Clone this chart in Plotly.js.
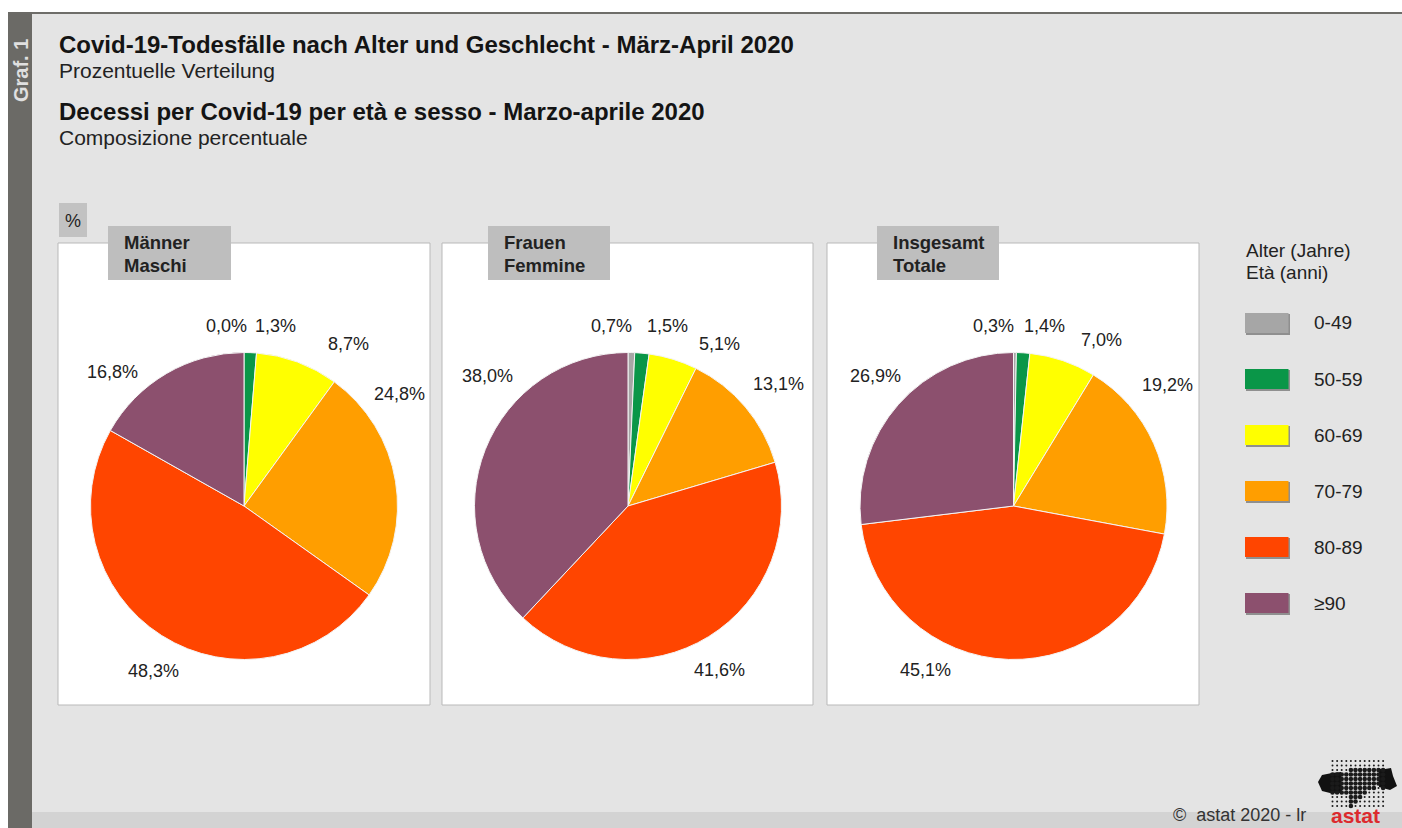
<!DOCTYPE html>
<html>
<head>
<meta charset="utf-8">
<script src="https://cdn.plot.ly/plotly-3.0.1.min.js"></script>
<style>
html, body { margin: 0; padding: 0; background: #fff; overflow: hidden; }
#chart { width: 1402px; height: 828px; }
</style>
</head>
<body>
<div id="chart"></div>
<script>
// Age bands and their slice colours
const ageBands = ['0-49', '50-59', '60-69', '70-79', '80-89', '≥90'];
const bandColors = ['#a6a6a6', '#0a9648', '#ffff00', '#ff9e00', '#ff4500', '#8c506e'];

// Share of deaths per age band, in percent
const menValues = [0.0, 1.3, 8.7, 24.8, 48.3, 16.8];
const womenValues = [0.7, 1.5, 5.1, 13.1, 41.6, 38.0];
const totalValues = [0.3, 1.4, 7.0, 19.2, 45.1, 26.9];

const W = 1402, H = 828;
const px = x => x / W;
const py = y => 1 - y / H;
const FONT = '"Liberation Sans", Arial, sans-serif';
const INK = '#222222';

// Panel geometry in page pixels
const panels = [
  { name: ['Männer', 'Maschi'], values: menValues, box: [58, 430], tab: [108, 231], cx: 244,
    labels: [[226, 326], [275, 326], [348, 344], [399, 394], [153, 671], [112, 372]] },
  { name: ['Frauen', 'Femmine'], values: womenValues, box: [442, 813], tab: [488, 610], cx: 628,
    labels: [[611, 326], [667, 326], [719, 344], [778, 384], [719, 670], [487, 376]] },
  { name: ['Insgesamt', 'Totale'], values: totalValues, box: [827, 1199], tab: [877, 999], cx: 1013.5,
    labels: [[993, 326], [1044, 326], [1101, 340], [1167, 385], [925, 670], [875, 376]] }
];
const pieCy = 506, pieR = 153.5;

const traces = panels.map(p => ({
  type: 'pie',
  values: p.values,
  labels: ageBands,
  sort: false,
  direction: 'clockwise',
  rotation: 0,
  textinfo: 'none',
  hoverinfo: 'label+percent',
  showlegend: false,
  marker: { colors: bandColors, line: { color: '#f4f4f4', width: 1 } },
  domain: { x: [px(p.cx - pieR), px(p.cx + pieR)], y: [py(pieCy + pieR), py(pieCy - pieR)] }
}));

function rect(x0, y0, x1, y1, fill, line) {
  return { type: 'rect', xref: 'paper', yref: 'paper', layer: 'below',
           x0: px(x0), x1: px(x1), y0: py(y0), y1: py(y1),
           fillcolor: fill, line: line ? { color: line, width: 1 } : { width: 0 } };
}
// Left-anchored text is nudged by the annotation's built-in padding
function note(x, y, text, size, opts) {
  const o = opts || {};
  const anchor = o.xanchor || 'left';
  const ann = Object.assign({ xref: 'paper', yref: 'paper', x: px(anchor === 'left' ? x - 2 : x), y: py(y), text: text,
    showarrow: false, xanchor: anchor, yanchor: 'middle', align: 'left',
    font: { family: FONT, size: size, color: o.color || INK } }, o);
  delete ann.color;
  return ann;
}

const shapes = [
  rect(8, 12, W, H, '#e4e4e4'),
  rect(8, 12, W, 14, '#6e6d69'),
  rect(8, 12, 32, H, '#6b6a66'),
  rect(32, 812, W, H, '#d3d3d3'),
  rect(59, 203, 87, 237, '#c2c2c2')
];
const annotations = [
  note(59, 44, '<b>Covid-19-Todesfälle nach Alter und Geschlecht - März-April 2020</b>', 24, { color: '#141414' }),
  note(59, 70, 'Prozentuelle Verteilung', 21),
  note(59, 112, '<b>Decessi per Covid-19 per età e sesso - Marzo-aprile 2020</b>', 24, { color: '#141414' }),
  note(59, 137, 'Composizione percentuale', 21),
  note(73, 221, '%', 18, { xanchor: 'center' }),
  note(21, 71, '<b>Graf. 1</b>', 20, { xanchor: 'center', textangle: -90, color: '#e0e0e0' }),
  note(1246, 250, 'Alter (Jahre)', 19),
  note(1246, 272, 'Età (anni)', 19),
  note(1173, 815, '©  astat 2020 - lr', 18, { color: '#333333' }),
  note(1332, 828, '<b>astat</b>', 21, { color: '#dc2a2e', yanchor: 'bottom', borderpad: 0 })
];

panels.forEach(p => {
  shapes.push(rect(p.box[0], 243, p.box[1], 705, '#ffffff', '#b9b9b9'));
  shapes.push(rect(p.tab[0], 226, p.tab[1], 280, '#bebebe'));
  annotations.push(note(p.tab[0] + 16, 243, '<b>' + p.name[0] + '</b>', 18.5));
  annotations.push(note(p.tab[0] + 16, 265, '<b>' + p.name[1] + '</b>', 18.5));
  p.values.forEach((v, i) => {
    annotations.push(note(p.labels[i][0], p.labels[i][1],
      v.toFixed(1).replace('.', ',') + '%', 18, { xanchor: 'center' }));
  });
});

// Legend swatches with a soft drop edge
ageBands.forEach((band, i) => {
  const top = 313 + i * 56;
  shapes.push(rect(1246, top + 1, 1290, top + 22, '#8f8f8f'));
  shapes.push(rect(1245, top, 1288.5, top + 20, bandColors[i]));
  annotations.push(note(1314, top + 10, band, 19));
});

// Logo: dot grid, thickened inside the regional outline, with solid ends
const outline = [[1318, 782], [1322, 775], [1332, 773], [1345, 772], [1350, 769], [1385, 769], [1391, 768], [1393, 776],
  [1397, 786], [1390, 790], [1378, 787], [1370, 790], [1362, 796], [1356, 800], [1354, 807], [1350, 807], [1349, 798],
  [1340, 793], [1330, 793], [1322, 791]];
const leftEnd = [[1318, 782], [1322, 775], [1332, 773], [1341, 772], [1342, 793], [1330, 793], [1322, 791]];
const rightEnd = [[1379, 769], [1385, 769], [1391, 768], [1393, 776], [1397, 786], [1390, 790], [1379, 787]];
[leftEnd, rightEnd].forEach(poly => shapes.push({
  type: 'path', xref: 'paper', yref: 'paper', layer: 'below', line: { width: 0 }, fillcolor: '#111111',
  path: poly.map((q, i) => (i ? 'L' : 'M') + px(q[0]) + ',' + py(q[1])).join(' ') + ' Z'
}));
function inside(x, y, poly) {
  let hit = false;
  for (let i = 0, j = poly.length - 1; i < poly.length; j = i++) {
    const a = poly[i], b = poly[j];
    if ((a[1] > y) !== (b[1] > y) && x < (b[0] - a[0]) * (y - a[1]) / (b[1] - a[1]) + a[0]) hit = !hit;
  }
  return hit;
}
for (let r = 0; r < 11; r++) {
  for (let c = 0; c < 12; c++) {
    const x = 1332.5 + c * 4.6, y = 761 + r * 4.5;
    const d = inside(x, y, outline) ? 2.3 : 1.0;
    shapes.push({ type: 'circle', xref: 'paper', yref: 'paper', layer: 'below', line: { width: 0 }, fillcolor: '#1a1a1a',
      x0: px(x - d), x1: px(x + d), y0: py(y + d), y1: py(y - d) });
  }
}

const layout = {
  width: W, height: H,
  margin: { l: 0, r: 0, t: 0, b: 0 },
  paper_bgcolor: '#ffffff',
  font: { family: FONT },
  showlegend: false,
  shapes: shapes,
  annotations: annotations
};
Plotly.newPlot('chart', traces, layout, { displayModeBar: false, staticPlot: true });
</script>
</body>
</html>
